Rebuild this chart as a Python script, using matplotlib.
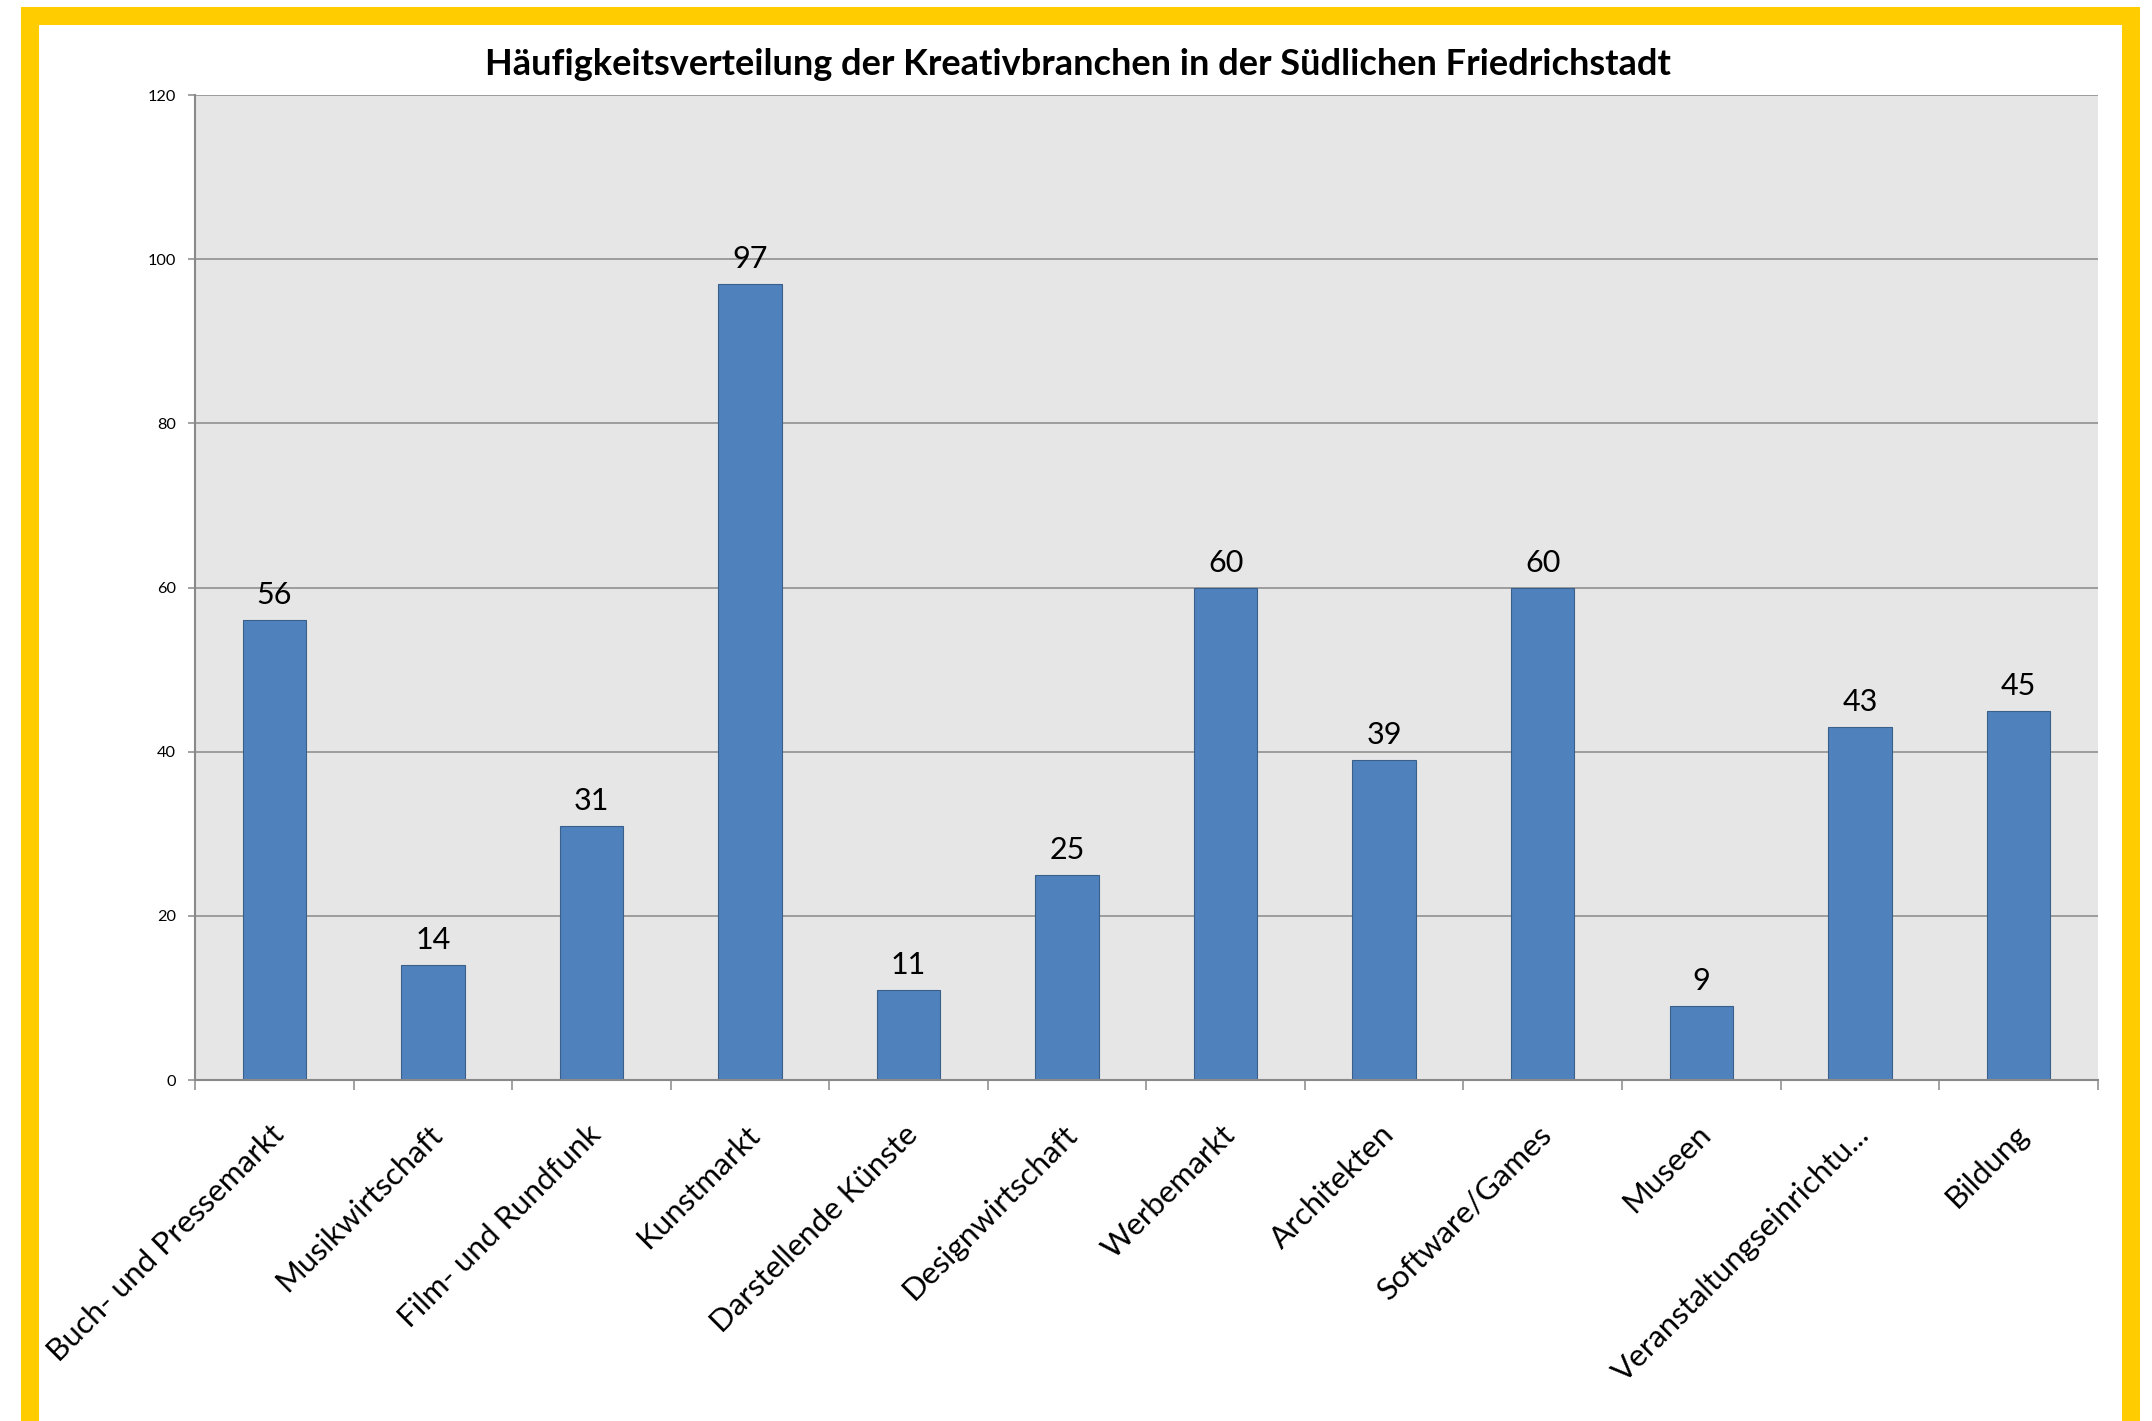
import numpy as np
import matplotlib
matplotlib.use('Agg')
import matplotlib.pyplot as plt
from matplotlib.patches import Rectangle
from matplotlib.transforms import ScaledTranslation

plt.rcParams['font.family'] = ['Lato', 'DejaVu Sans']

categories = ['Buch- und Pressemarkt', 'Musikwirtschaft', 'Film- und Rundfunk', 'Kunstmarkt',
              'Darstellende Künste', 'Designwirtschaft', 'Werbemarkt', 'Architekten',
              'Software/Games', 'Museen', 'Veranstaltungseinrichtu...', 'Bildung']
values = [56, 14, 31, 97, 11, 25, 60, 39, 60, 9, 43, 45]
y_ticks = [0, 20, 40, 60, 80, 100, 120]

title = 'Häufigkeitsverteilung der Kreativbranchen in der Südlichen Friedrichstadt'

W, H, DPI = 2152, 1421, 100
fig = plt.figure(figsize=(W / DPI, H / DPI), dpi=DPI)
fig.patch.set_facecolor('white')

# yellow frame (bottom edge runs off the picture)
frame = Rectangle((30 / W, -0.005), (2131 - 30) / W, 1.005 - 16 / H,
                  transform=fig.transFigure, fill=False, edgecolor='#FFCC00',
                  linewidth=13, clip_on=False, zorder=0)
fig.patches.append(frame)

ax = fig.add_axes([195 / W, 1 - 1080 / H, (2097.7 - 195) / W, (1080 - 95) / H])
ax.set_facecolor('#E6E6E6')

grid_col = '#898989'
x = np.arange(len(categories))
ax.bar(x, values, width=0.4, color='#4F81BD', edgecolor='#3A5F8B', linewidth=0.8, zorder=3)

for i, v in enumerate(values):
    ax.annotate(str(v), (i, v), xytext=(0, 11.5), textcoords='offset points',
                ha='center', va='baseline', fontsize=22, color='black', zorder=4)

ax.set_xlim(-0.5, len(categories) - 0.5)
ax.set_ylim(0, 120)
ax.set_yticks(y_ticks)
ax.set_yticklabels([str(t) for t in y_ticks], fontsize=11.7)
ax.yaxis.grid(True, color=grid_col, linewidth=1.1)
ax.set_axisbelow(True)

ax.set_xticks(np.arange(-0.5, len(categories), 1.0))
ax.set_xticklabels([])
ax.tick_params(axis='x', length=7.2, width=1.1, color=grid_col, direction='out')
ax.tick_params(axis='y', length=5, width=1.1, color=grid_col, direction='out', pad=8.6)

for side in ['top', 'right']:
    ax.spines[side].set_visible(False)
for side in ['left', 'bottom']:
    ax.spines[side].set_color(grid_col)
    ax.spines[side].set_linewidth(1.5)
    ax.spines[side].set_zorder(5)

# rotated category labels
offset = ScaledTranslation(5 / DPI, -50 / DPI, fig.dpi_scale_trans)
for i, lab in enumerate(categories):
    ax.text(i, 0, lab, transform=ax.get_xaxis_transform() + offset,
            rotation=45, rotation_mode='anchor', ha='right', va='center',
            fontsize=22.5, color='black')

fig.text(1078 / W, 1 - 75 / H, title, ha='center', va='baseline',
         fontsize=26, fontweight='bold', color='black')

fig.savefig('out.png', dpi=DPI)
